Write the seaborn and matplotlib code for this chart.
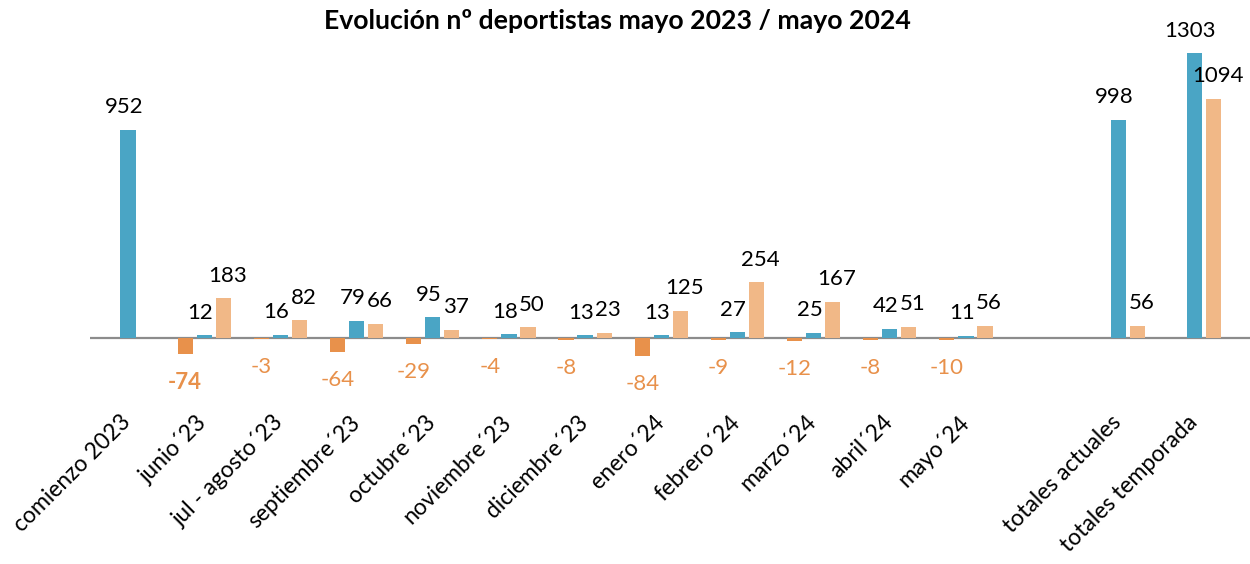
import numpy as np
import pandas as pd
import matplotlib
matplotlib.use("Agg")
import matplotlib.pyplot as plt
import matplotlib.transforms as mtransforms
import seaborn as sns

categories = ["comienzo 2023", "junio´23", "jul - agosto´23", "septiembre´23", "octubre´23",
              "noviembre´23", "diciembre´23", "enero´24", "febrero´24", "marzo´24",
              "abril´24", "mayo´24", " ", "totales actuales", "totales temporada"]
bajas = [np.nan, -74, -3, -64, -29, -4, -8, -84, -9, -12, -8, -10, np.nan, np.nan, np.nan]
altas = [952, 12, 16, 79, 95, 18, 13, 13, 27, 25, 42, 11, np.nan, 998, 1303]
nuevos = [np.nan, 183, 82, 66, 37, 50, 23, 125, 254, 167, 51, 56, np.nan, 56, 1094]
series = ["bajas", "altas", "nuevos"]
title = "Evolución nº deportistas mayo 2023 / mayo 2024"

colors = {"bajas": "#E8914B", "altas": "#4AA5C5", "nuevos": "#F1B887"}

rows = []
for name, vals in zip(series, [bajas, altas, nuevos]):
    for c, v in zip(categories, vals):
        rows.append({"cat": c, "serie": name, "valor": v})
df = pd.DataFrame(rows)

sns.set_theme(style="white")
plt.rcParams["font.family"] = ["Lato", "DejaVu Sans"]
plt.rcParams["text.color"] = "black"
plt.rcParams["xtick.color"] = "black"

fig = plt.figure(figsize=(12.5, 5.64), dpi=100)
ax = fig.add_axes([0.072, 0.291, 0.928, 0.638])

sns.barplot(data=df, x="cat", y="valor", hue="serie", order=categories, hue_order=series,
            palette=colors, width=0.75, gap=0.2, dodge=True, legend=False, ax=ax,
            saturation=1, errorbar=None, linewidth=0, edgecolor="none")

ax.set_ylim(-283, 1363)
ax.set_xlim(-0.5, 14.73)
ax.axhline(0, color="#8C8C8C", lw=1.6, zorder=0.5)

for cont, name in zip(ax.containers, series):
    for patch in cont.patches:
        h = patch.get_height()
        if h is None or np.isnan(h):
            continue
        x = patch.get_x() + patch.get_width() / 2
        v = int(round(h))
        if name == "bajas":
            ax.annotate(f"{v}", (x, h), xytext=(0, -13), textcoords="offset points",
                        ha="center", va="top", fontsize=16, color="#E8914B",
                        fontweight="bold" if v == -74 else "normal")
        else:
            dx = -3 if name == "altas" else 3
            ax.annotate(f"{v}", (x, h), xytext=(dx, 9), textcoords="offset points",
                        ha="center", va="bottom", fontsize=16, color="black")

for s in ax.spines.values():
    s.set_visible(False)
ax.set_yticks([])
ax.set_xlabel("")
ax.set_ylabel("")
ax.tick_params(axis="x", length=0, pad=4, labelcolor="black")
offset = mtransforms.ScaledTranslation(-0.08, -0.06, fig.dpi_scale_trans)
for lab in ax.get_xticklabels():
    lab.set_rotation(45)
    lab.set_ha("right")
    lab.set_rotation_mode("anchor")
    lab.set_fontsize(16.5)
    lab.set_color("black")
    lab.set_transform(lab.get_transform() + offset)

fig.text(0.494, 0.962, title, ha="center", va="center", fontsize=19.2,
         fontweight="bold", color="black")

fig.savefig("out.png", dpi=100)
